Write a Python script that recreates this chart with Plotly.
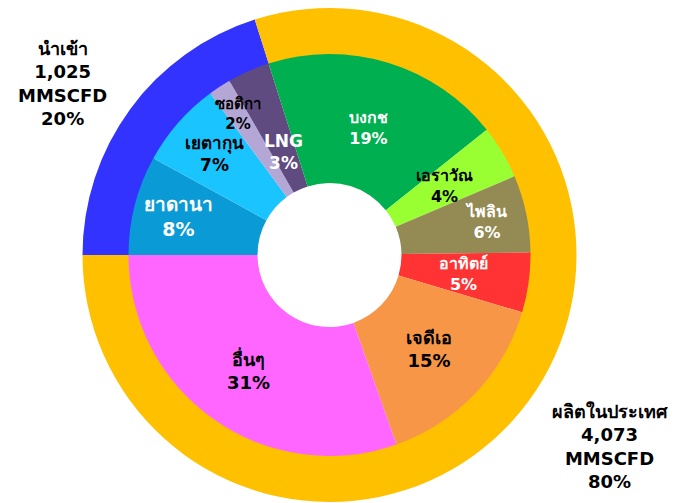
import math
import plotly.graph_objects as go

# ---- data ----
outer_labels = ["นำเข้า", "ผลิตในประเทศ"]
outer_values = [1025, 4073]
outer_pct = ["20%", "80%"]

inner_labels = ["ยาดานา", "เยตากุน", "ซอติกา", "LNG", "บงกช", "เอราวัณ", "ไพลิน", "อาทิตย์", "เจดีเอ", "อื่นๆ"]
inner_values = [8.0, 6.9, 1.8, 3.4, 19.2, 4.3, 6.2, 4.8, 15.0, 30.4]
inner_pct = ["8%", "7%", "2%", "3%", "19%", "4%", "6%", "5%", "15%", "31%"]

# ---- styles ----
W, H = 679, 503
CX, CY = 329.5, 255
R_OUT, R_IN, R_HOLE = 247, 201, 72
outer_colors = ["#3333FF", "#FFC000"]
inner_colors = ["#0A9BD6", "#1AC4FF", "#B4A7D6", "#5F4B7F", "#00B050",
                "#99FF33", "#948A54", "#FF3333", "#F79646", "#FF66FF"]
inner_text_colors = ["white", "black", "black", "white", "white",
                     "black", "white", "white", "black", "black"]
inner_font_sizes = [19, 17, 15, 17, 16, 16, 16, 16, 18, 18]
label_radius = [156, 153, 168, 113, 133, 134, 160, 135, 137, 141]
FONT = "Tahoma, Verdana, DejaVu Sans, Noto Sans, sans-serif"
ROT = 270

fig = go.Figure()
fig.add_trace(go.Pie(
    labels=outer_labels, values=outer_values, sort=False, direction="clockwise",
    rotation=ROT, hole=(R_IN - 2) / R_OUT, textinfo="none", hoverinfo="label+value",
    marker=dict(colors=outer_colors, line=dict(width=0)),
    domain=dict(x=[(CX - R_OUT) / W, (CX + R_OUT) / W],
                y=[1 - (CY + R_OUT) / H, 1 - (CY - R_OUT) / H]),
    showlegend=False,
))
fig.add_trace(go.Pie(
    labels=inner_labels, values=inner_values, sort=False, direction="clockwise",
    rotation=ROT, hole=R_HOLE / R_IN, textinfo="none", hoverinfo="label+percent",
    marker=dict(colors=inner_colors, line=dict(width=0)),
    domain=dict(x=[(CX - R_IN) / W, (CX + R_IN) / W],
                y=[1 - (CY + R_IN) / H, 1 - (CY - R_IN) / H]),
    showlegend=False,
))

annotations = []
total = sum(inner_values)
cum = 0.0
for lab, val, pct, col, rr, fs in zip(inner_labels, inner_values, inner_pct,
                                      inner_text_colors, label_radius, inner_font_sizes):
    mid = ROT + 360 * (cum + val / 2) / total
    cum += val
    th = math.radians(mid)
    px = CX + rr * math.sin(th)
    py = CY - rr * math.cos(th)
    annotations.append(dict(
        x=px / W, y=1 - py / H, xref="paper", yref="paper", showarrow=False,
        xanchor="center", yanchor="middle",
        text=f"<b>{lab}<br>{pct}</b>", align="center",
        font=dict(family=FONT, size=fs, color=col),
    ))

outer_pos = [(62, 83), (610, 446)]
for lab, val, pct, (px, py) in zip(outer_labels, outer_values, outer_pct, outer_pos):
    annotations.append(dict(
        x=px / W, y=1 - py / H, xref="paper", yref="paper", showarrow=False,
        xanchor="center", yanchor="middle",
        text=f"<b>{lab}<br>{val:,}<br>MMSCFD<br>{pct}</b>", align="center",
        font=dict(family=FONT, size=18, color="black"),
    ))

fig.update_layout(
    width=W, height=H, margin=dict(l=0, r=0, t=0, b=0),
    paper_bgcolor="white", plot_bgcolor="white",
    annotations=annotations,
)
fig.write_html("out.html")
